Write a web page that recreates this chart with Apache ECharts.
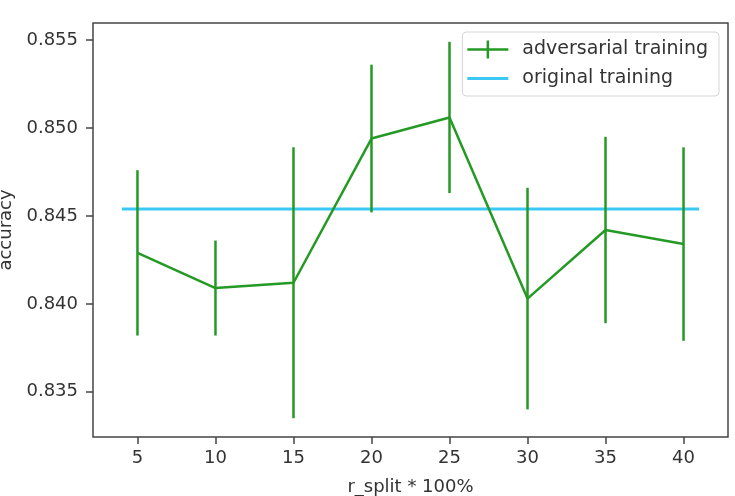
<!DOCTYPE html>
<html>
<head>
<meta charset="utf-8">
<script src="https://cdn.jsdelivr.net/npm/echarts@6/dist/echarts.min.js"></script>
<style>
  html, body { margin: 0; padding: 0; background: #fff; }
  #chart { width: 735px; height: 496px; }
</style>
</head>
<body>
<div id="chart"></div>
<script>
// values
const rSplit = [5, 10, 15, 20, 25, 30, 35, 40]
const advMean = [0.8429, 0.8409, 0.8412, 0.8494, 0.8506, 0.8403, 0.8442, 0.8434]
const advErr = [0.0047, 0.0027, 0.0077, 0.0042, 0.0043, 0.0063, 0.0053, 0.0055]
const origX = [4, 41]
const origAcc = 0.8454
const xTicks = [5, 10, 15, 20, 25, 30, 35, 40]
const yTicks = [0.835, 0.840, 0.845, 0.850, 0.855]

const green = '#249a24'
const cyan = '#3cc8f5'
const ink = '#333'
const font = 'DejaVu Sans'

// matplotlib-like 5% margins around the data
const xLo = Math.min(...origX, ...rSplit)
const xHi = Math.max(...origX, ...rSplit)
const lows = advMean.map((m, i) => m - advErr[i])
const highs = advMean.map((m, i) => m + advErr[i])
const yLo = Math.min(...lows, origAcc)
const yHi = Math.max(...highs, origAcc)
const xPad = (xHi - xLo) * 0.05
const yPad = (yHi - yLo) * 0.05

const chart = echarts.init(document.getElementById('chart'))

const errData = rSplit.map((x, i) => [x, lows[i], highs[i]])

// legend icons: tiny corner dots keep the 41x18 box so the strokes are not stretched
const corners = 'M0,0h0.01v0.01h-0.01Z M40.99,17.99h0.01v0.01h-0.01Z '
const errIcon = 'path://' + corners + 'M0,7.75h41v2.5h-41Z M19.25,0h2.5v18h-2.5Z'
const lineIcon = 'path://' + corners + 'M0,7.5h41v3h-41Z'

chart.setOption({
  animation: false,
  grid: {
    left: 93, right: 7, top: 23, bottom: 59,
    outerBoundsMode: 'none',
    containLabel: false,
    show: true, borderColor: '#444', borderWidth: 1.5,
  },
  legend: {
    right: 16,
    top: 32,
    orient: 'vertical',
    itemWidth: 41,
    itemHeight: 18,
    itemGap: 10,
    padding: [8, 11, 8, 5],
    borderColor: '#d4d4d4',
    borderWidth: 1,
    borderRadius: 4,
    textStyle: { fontFamily: font, fontSize: 19, color: ink, padding: [0, 0, 0, 9] },
    data: [
      { name: 'adversarial training', icon: errIcon },
      { name: 'original training', icon: lineIcon },
    ],
  },
  xAxis: {
    type: 'value',
    min: xLo - xPad,
    max: xHi + xPad,
    name: 'r_split * 100%',
    nameLocation: 'middle',
    nameGap: 41,
    nameTextStyle: { fontFamily: font, fontSize: 18, color: ink },
    splitLine: { show: false },
    axisLine: { show: false },
    axisTick: { show: true, length: 7, lineStyle: { color: '#444', width: 1.5 }, customValues: xTicks },
    axisLabel: { fontFamily: font, fontSize: 18, color: ink, margin: 12, customValues: xTicks },
  },
  yAxis: {
    type: 'value',
    min: yLo - yPad,
    max: yHi + yPad,
    name: 'accuracy',
    nameLocation: 'middle',
    nameGap: 77,
    nameTextStyle: { fontFamily: font, fontSize: 18, color: ink },
    splitLine: { show: false },
    axisLine: { show: false },
    axisTick: { show: true, length: 7, lineStyle: { color: '#444', width: 1.5 }, customValues: yTicks },
    axisLabel: {
      fontFamily: font, fontSize: 18, color: ink, margin: 15,
      customValues: yTicks,
      formatter: (v) => v.toFixed(3),
    },
  },
  series: [
    {
      name: 'original training',
      type: 'line',
      symbol: 'none',
      color: cyan,
      lineStyle: { color: cyan, width: 3 },
      data: origX.map((x) => [x, origAcc]),
      z: 2,
    },
    {
      name: 'adversarial training',
      type: 'line',
      symbol: 'none',
      color: green,
      lineStyle: { color: green, width: 2.5 },
      data: rSplit.map((x, i) => [x, advMean[i]]),
      z: 3,
    },
    {
      name: 'adversarial training',
      type: 'custom',
      color: green,
      data: errData,
      encode: { x: 0, y: [1, 2] },
      renderItem: (params, api) => {
        const x = api.value(0)
        const p0 = api.coord([x, api.value(1)])
        const p1 = api.coord([x, api.value(2)])
        return {
          type: 'line',
          shape: { x1: p0[0], y1: p0[1], x2: p1[0], y2: p1[1] },
          style: { stroke: green, lineWidth: 2.5 },
        }
      },
      z: 3,
    },
  ],
})
</script>
</body>
</html>
